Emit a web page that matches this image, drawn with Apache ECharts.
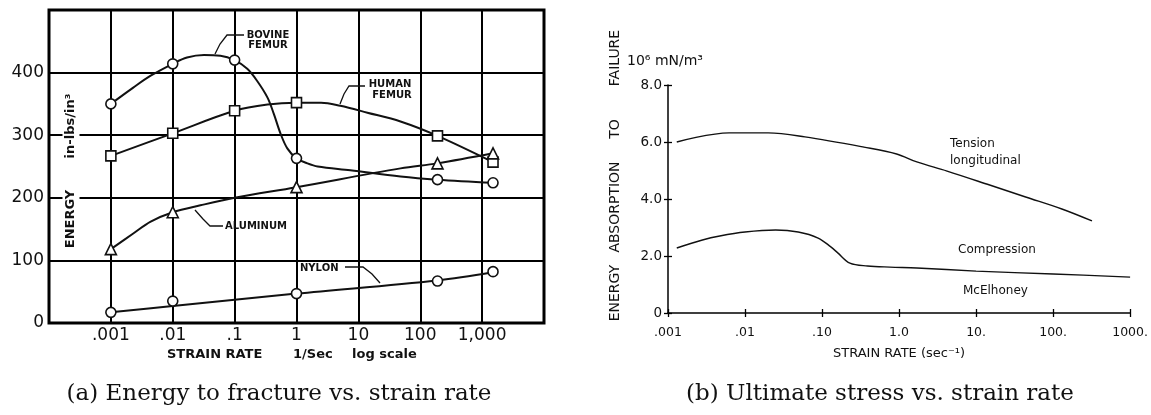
<!DOCTYPE html>
<html>
<head>
<meta charset="utf-8">
<script src="https://cdn.jsdelivr.net/npm/echarts@6/dist/echarts.min.js"></script>
<style>
  html, body { margin: 0; padding: 0; background: #fff; }
  #chart { width: 1151px; height: 415px; }
</style>
</head>
<body>
<div id="chart"></div>
<script>
// ---------- Panel (a): energy to fracture (in-lbs/in^3) vs strain rate ----------
const rateLabelsA = { '-3': '.001', '-2': '.01', '-1': '.1', '0': '1', '1': '10', '2': '100', '3': '1,000' };
const energyTicksA = [0, 100, 200, 300, 400];

// measured points (markers)
const bovineRate   = [0.001, 0.01, 0.1, 1, 190, 1500];
const bovineEnergy = [350, 414, 420, 263, 229, 224];
const humanRate    = [0.001, 0.01, 0.1, 1, 190, 1500];
const humanEnergy  = [267, 303, 339, 352, 299, 257];
const aluminumRate   = [0.001, 0.01, 1, 190, 1500];
const aluminumEnergy = [118, 177, 217, 255, 271];
const nylonRate   = [0.001, 0.01, 1, 190, 1500];
const nylonEnergy = [17, 35, 47, 67, 82];

// faired curves
const bovineCurveRate   = [0.001, 0.0023, 0.0044, 0.01, 0.017, 0.032, 0.059, 0.1, 0.16, 0.23, 0.34, 0.43, 0.55, 0.71, 1, 1.5, 2.2, 7.4, 48, 190, 1500];
const bovineCurveEnergy = [350, 376, 395, 414, 424, 428, 427, 420, 406, 387, 360, 334, 303, 279, 263, 255, 250, 244, 234, 229, 224];
const humanCurveRate    = [0.001, 0.01, 0.1, 0.34, 1, 2.5, 5.1, 14, 48, 190, 1500];
const humanCurveEnergy  = [267, 303, 339, 349, 352, 352, 347, 336, 322, 299, 257];
const aluminumCurveRate   = [0.001, 0.0023, 0.0044, 0.01, 0.028, 0.1, 1, 48, 190, 1500];
const aluminumCurveEnergy = [118, 143, 162, 177, 188, 200, 217, 247, 255, 271];
const nylonCurveRate   = [0.001, 0.01, 1, 190, 1500];
const nylonCurveEnergy = [17, 27, 47, 68, 81];

// ---------- Panel (b): energy absorption to failure (10^6 mN/m^3) ----------
const rateLabelsB = { '-3': '.001', '-2': '.01', '-1': '.10', '0': '1.0', '1': '10.', '2': '100.', '3': '1000.' };
const energyTicksB = [0, 2, 4, 6, 8];
const tensionRate   = [0.0013, 0.0062, 0.020, 0.060, 0.35, 0.93, 1.7, 4.2, 15, 44, 130, 320];
const tensionEnergy = [6.0, 6.32, 6.32, 6.18, 5.82, 5.58, 5.30, 4.98, 4.49, 4.07, 3.65, 3.23];
const compressionRate   = [0.0013, 0.0028, 0.0047, 0.010, 0.025, 0.049, 0.089, 0.13, 0.16, 0.23, 0.39, 0.76, 1.7, 10, 100, 1000];
const compressionEnergy = [2.28, 2.56, 2.70, 2.84, 2.91, 2.84, 2.63, 2.32, 2.11, 1.75, 1.65, 1.61, 1.58, 1.47, 1.37, 1.26];

const zip = (xs, ys) => xs.map((x, i) => [x, ys[i]]);
const decade = v => String(Math.round(Math.log10(v)));

const SANS = 'DejaVu Sans';
const INK = '#111';

function curve(xs, ys, xi, width) {
  return {
    type: 'line', xAxisIndex: xi, yAxisIndex: xi, data: zip(xs, ys),
    smooth: 0.35, symbol: 'none', silent: true,
    lineStyle: { color: INK, width: width }, z: 3
  };
}
function markers(xs, ys, symbol, size) {
  return {
    type: 'scatter', xAxisIndex: 0, yAxisIndex: 0, data: zip(xs, ys),
    symbol: symbol, symbolSize: size, silent: true,
    itemStyle: { color: '#fff', opacity: 1, borderColor: INK, borderWidth: 1.6 }, z: 4
  };
}
function txt(text, x, y, opt) {
  return Object.assign({
    type: 'text', z: 50, x: x, y: y,
    style: Object.assign({
      text: text, fill: INK, font: '13px "' + SANS + '"',
      textAlign: 'left', textVerticalAlign: 'middle'
    }, opt && opt.style)
  }, opt && opt.el);
}
function path(points, width) {
  return { type: 'polyline', z: 50, shape: { points: points }, style: { stroke: INK, lineWidth: width || 1.3, fill: null } };
}
const vertical = { rotation: Math.PI / 2 };

const chart = echarts.init(document.getElementById('chart'));

chart.setOption({
  animation: false,
  backgroundColor: '#fff',
  grid: [
    { left: 49, top: 10, width: 495, height: 313, show: true, borderColor: '#000', borderWidth: 3, backgroundColor: 'transparent' },
    { left: 668, top: 85, width: 468, height: 228 }
  ],
  xAxis: [
    {
      gridIndex: 0, type: 'log', logBase: 10, min: 1e-4, max: 1e4, splitNumber: 8, position: 'bottom',
      axisLine: { show: false }, axisTick: { show: false },
      splitLine: { show: true, lineStyle: { color: '#000', width: 2 } },
      axisLabel: { formatter: v => rateLabelsA[decade(v)] || '', fontSize: 17, fontFamily: SANS, color: INK, margin: 4 }
    },
    {
      gridIndex: 1, type: 'log', logBase: 10, min: 1e-3, max: 1e3, splitNumber: 6, position: 'bottom',
      axisLine: { show: true, onZero: false, lineStyle: { color: '#000', width: 1.5 } },
      axisTick: { show: true, length: 4, lineStyle: { color: '#000', width: 1.3 } },
      splitLine: { show: false },
      axisLabel: { formatter: v => rateLabelsB[decade(v)] || '', fontSize: 12.5, fontFamily: SANS, color: INK, margin: 13 }
    },
    {
      gridIndex: 1, type: 'log', logBase: 10, min: 1e-3, max: 1e3, splitNumber: 6, position: 'bottom',
      axisLine: { show: false, onZero: false },
      axisTick: { show: true, inside: true, length: 4, lineStyle: { color: '#000', width: 1.3 } },
      splitLine: { show: false }, axisLabel: { show: false }
    }
  ],
  yAxis: [
    {
      gridIndex: 0, type: 'value', min: 0, max: 500, interval: 100,
      axisLine: { show: false }, axisTick: { show: false },
      splitLine: { show: true, lineStyle: { color: '#000', width: 2 } },
      axisLabel: { formatter: v => energyTicksA.includes(v) ? String(v) : '', fontSize: 17, fontFamily: SANS, color: INK, margin: 5 }
    },
    {
      gridIndex: 1, type: 'value', min: 0, max: 8, interval: 2, position: 'left',
      axisLine: { show: true, onZero: false, lineStyle: { color: '#000', width: 1.5 } },
      axisTick: { show: true, length: 4, lineStyle: { color: '#000', width: 1.3 } },
      splitLine: { show: false },
      axisLabel: { formatter: v => energyTicksB.includes(v) ? (v === 0 ? '0' : v.toFixed(1)) : '', fontSize: 13.5, fontFamily: SANS, color: INK, margin: 6 }
    },
    {
      gridIndex: 1, type: 'value', min: 0, max: 8, interval: 2, position: 'left',
      axisLine: { show: false, onZero: false },
      axisTick: { show: true, inside: true, length: 4, lineStyle: { color: '#000', width: 1.3 } },
      splitLine: { show: false }, axisLabel: { show: false }
    }
  ],
  series: [
    curve(bovineCurveRate, bovineCurveEnergy, 0, 2),
    curve(humanCurveRate, humanCurveEnergy, 0, 2),
    curve(aluminumCurveRate, aluminumCurveEnergy, 0, 2),
    curve(nylonCurveRate, nylonCurveEnergy, 0, 2),
    markers(bovineRate, bovineEnergy, 'circle', 10),
    markers(humanRate, humanEnergy, 'rect', 10),
    markers(aluminumRate, aluminumEnergy, 'triangle', 11),
    markers(nylonRate, nylonEnergy, 'circle', 10),
    curve(tensionRate, tensionEnergy, 1, 1.4),
    curve(compressionRate, compressionEnergy, 1, 1.4)
  ],
  graphic: [
    // panel (a) axis titles
    txt('ENERGY', 71, 219, { el: vertical, style: { font: 'bold 13px "' + SANS + '"', textAlign: 'center', backgroundColor: '#fff', padding: [2, 5] } }),
    txt('in-lbs/in³', 71, 126, { el: vertical, style: { font: 'bold 13px "' + SANS + '"', textAlign: 'center', backgroundColor: '#fff', padding: [2, 5] } }),
    txt('STRAIN RATE', 167, 355, { style: { font: 'bold 13px "' + SANS + '"' } }),
    txt('1/Sec', 293, 355, { style: { font: 'bold 13px "' + SANS + '"' } }),
    txt('log scale', 352, 355, { style: { font: 'bold 13px "' + SANS + '"' } }),
    // panel (a) curve names with leaders
    txt('BOVINE', 268, 35, { style: { font: 'bold 10px "' + SANS + '"', textAlign: 'center' } }),
    txt('FEMUR', 268, 45, { style: { font: 'bold 10px "' + SANS + '"', textAlign: 'center' } }),
    path([[215, 54], [220, 44], [227, 35], [244, 35]]),
    txt('HUMAN', 390, 84, { style: { font: 'bold 10px "' + SANS + '"', textAlign: 'center' } }),
    txt('FEMUR', 392, 95, { style: { font: 'bold 10px "' + SANS + '"', textAlign: 'center' } }),
    path([[340, 104], [344, 94], [349, 86], [365, 86]]),
    txt('ALUMINUM', 225, 226, { style: { font: 'bold 10px "' + SANS + '"' } }),
    path([[195, 210], [203, 219], [210, 226], [223, 226]]),
    txt('NYLON', 300, 268, { style: { font: 'bold 10px "' + SANS + '"' } }),
    path([[345, 267], [363, 267], [372, 274], [380, 283]]),
    // panel (b) axis titles and curve names
    txt('ENERGY', 615, 293, { el: vertical, style: { font: '14px "' + SANS + '"', textAlign: 'center' } }),
    txt('ABSORPTION', 615, 207, { el: vertical, style: { font: '14px "' + SANS + '"', textAlign: 'center' } }),
    txt('TO', 615, 129, { el: vertical, style: { font: '14px "' + SANS + '"', textAlign: 'center' } }),
    txt('FAILURE', 615, 58, { el: vertical, style: { font: '14px "' + SANS + '"', textAlign: 'center' } }),
    txt('10⁶ mN/m³', 627, 61, { style: { font: '14px "' + SANS + '"' } }),
    txt('STRAIN RATE (sec⁻¹)', 899, 354, { style: { font: '13px "' + SANS + '"', textAlign: 'center' } }),
    txt('Tension', 950, 144, { style: { font: '12px "' + SANS + '"' } }),
    txt('longitudinal', 950, 161, { style: { font: '12px "' + SANS + '"' } }),
    txt('Compression', 958, 250, { style: { font: '12px "' + SANS + '"' } }),
    txt('McElhoney', 963, 291, { style: { font: '12px "' + SANS + '"' } }),
    // sub-figure captions
    txt('(a) Energy to fracture vs. strain rate', 279, 394, { style: { font: '23px "DejaVu Serif"', textAlign: 'center' } }),
    txt('(b) Ultimate stress vs. strain rate', 880, 394, { style: { font: '23px "DejaVu Serif"', textAlign: 'center' } })
  ]
});
</script>
</body>
</html>
